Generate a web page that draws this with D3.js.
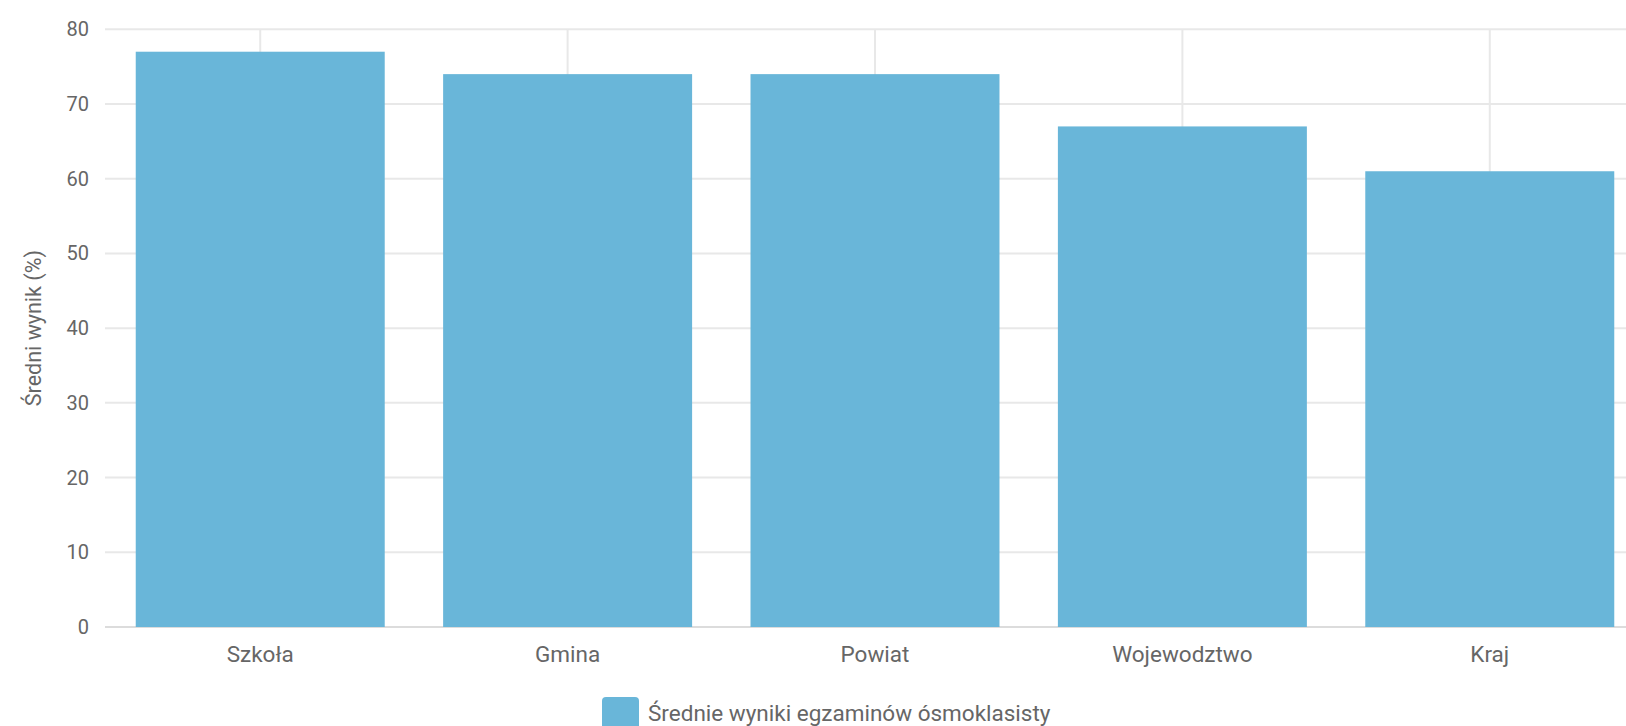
<!DOCTYPE html>
<html>
<head>
  <title>Średnie wyniki</title>
  <meta charset="utf-8">
  <script src="https://d3js.org/d3.v7.min.js"></script>
  <style>
    body { margin: 0; background: #fff; }
    text { font-family: Roboto, sans-serif; fill: #666; }
  </style>
</head>
<body>
<script>
  // dane
  var kategorie = ['Szkoła', 'Gmina', 'Powiat', 'Wojewodztwo', 'Kraj'];
  var wyniki = [77, 74, 74, 67, 61];
  var yTicks = [0, 10, 20, 30, 40, 50, 60, 70, 80];
  var seriaNazwa = 'Średnie wyniki egzaminów ósmoklasisty';
  var osY = 'Średni wynik (%)';

  var W = 1626, H = 726;
  var lewo = 105, prawo = 1645, gora = 29.3, dol = 627;
  var kolor = '#69b6d9';
  var siatka = '#e8e8e8';
  var fs = '22.5px';

  var svg = d3.select('body').append('svg')
    .attr('width', W)
    .attr('height', H);

  var x = d3.scaleBand()
    .domain(kategorie)
    .range([lewo, prawo])
    .paddingInner(0.19)
    .paddingOuter(0.1);

  var y = d3.scaleLinear()
    .domain([0, 80])
    .range([dol, gora]);

  // poziome linie siatki
  svg.append('g')
    .selectAll('line')
    .data(yTicks)
    .enter().append('line')
    .attr('x1', lewo)
    .attr('x2', W)
    .attr('y1', d => y(d))
    .attr('y2', d => y(d))
    .attr('stroke', d => d === 0 ? '#dcdcdc' : siatka)
    .attr('stroke-width', 2);

  // pionowe linie siatki
  svg.append('g')
    .selectAll('line')
    .data(kategorie)
    .enter().append('line')
    .attr('x1', d => x(d) + x.bandwidth() / 2)
    .attr('x2', d => x(d) + x.bandwidth() / 2)
    .attr('y1', y(80))
    .attr('y2', y(0))
    .attr('stroke', siatka)
    .attr('stroke-width', 2);

  // słupki
  svg.append('g')
    .selectAll('rect')
    .data(wyniki)
    .enter().append('rect')
    .attr('x', (d, i) => x(kategorie[i]))
    .attr('y', d => y(d))
    .attr('width', x.bandwidth())
    .attr('height', d => y(0) - y(d))
    .attr('fill', kolor);

  // etykiety osi Y
  svg.append('g')
    .selectAll('text')
    .data(yTicks)
    .enter().append('text')
    .attr('x', 89)
    .attr('y', d => y(d))
    .attr('dy', '0.35em')
    .attr('text-anchor', 'end')
    .style('font-size', '20px')
    .text(d => d);

  // etykiety osi X
  svg.append('g')
    .selectAll('text')
    .data(kategorie)
    .enter().append('text')
    .attr('x', d => x(d) + x.bandwidth() / 2)
    .attr('y', 662)
    .attr('text-anchor', 'middle')
    .style('font-size', fs)
    .text(d => d);

  // tytuł osi Y
  svg.append('text')
    .attr('transform', 'translate(41,' + y(40) + ') rotate(-90)')
    .attr('text-anchor', 'middle')
    .style('font-size', '21.5px')
    .text(osY);

  // legenda
  var leg = svg.append('g');
  leg.append('rect')
    .attr('x', 602)
    .attr('y', 697)
    .attr('width', 37)
    .attr('height', 34)
    .attr('rx', 4)
    .attr('fill', kolor);
  leg.append('text')
    .attr('x', 648)
    .attr('y', 721)
    .style('font-size', fs)
    .text(seriaNazwa);
</script>
</body>
</html>
